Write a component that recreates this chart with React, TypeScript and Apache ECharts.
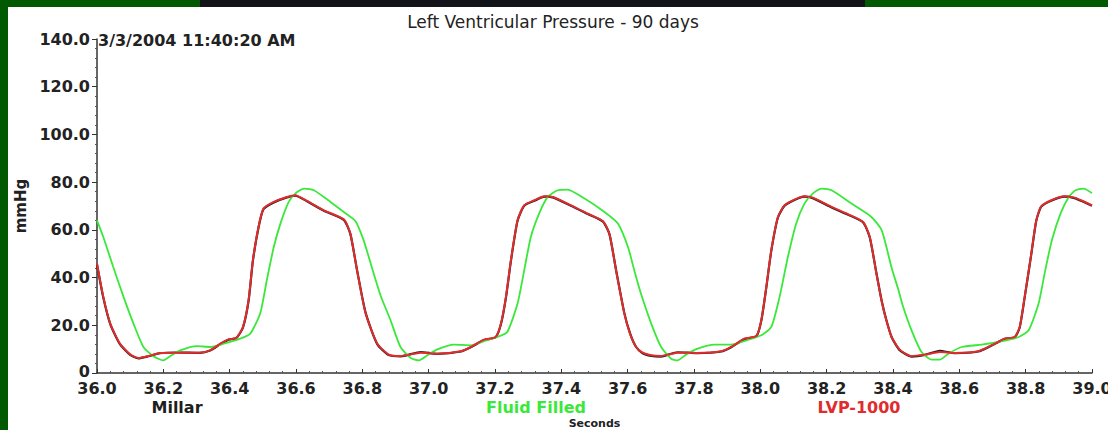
import React, { useEffect, useRef } from "react";
import * as echarts from "echarts";

const titleText = "Left Ventricular Pressure - 90 days";
const timestampText = "3/3/2004 11:40:20 AM";
const seriesNames = ["Millar", "Fluid Filled", "LVP-1000"];
const seriesColors = ["#1e1e1e", "#3ae83a", "#e02c2c"];
const xTickLabels = ["36.0","36.2","36.4","36.6","36.8","37.0","37.2","37.4","37.6","37.8","38.0","38.2","38.4","38.6","38.8","39.0"];

const millarPoints: [number, number][] = [
  [36.0,45.5],[36.019,31.6],[36.04,20.5],[36.069,12.1],[36.1,7.6],[36.125,6.1],[36.155,7.0],[36.19,8.3],[36.24,8.6],[36.31,8.4],[36.341,9.4],[36.372,12.1],[36.397,14.0],[36.42,14.6],[36.44,19.0],[36.457,30.2],[36.47,47.0],[36.487,61.0],[36.502,68.7],[36.533,71.5],[36.573,73.6],[36.598,74.3],[36.633,72.0],[36.684,68.0],[36.744,64.2],[36.764,58.2],[36.784,43.2],[36.81,25.2],[36.845,12.1],[36.88,7.5],[36.916,7.0],[36.976,8.8],[37.026,8.0],[37.097,9.0],[37.127,10.8],[37.167,13.8],[37.202,15.0],[37.218,20.5],[37.233,31.6],[37.248,47.0],[37.268,63.8],[37.288,70.1],[37.319,72.2],[37.349,73.9],[37.374,73.6],[37.429,70.1],[37.48,66.6],[37.525,63.5],[37.545,58.2],[37.565,43.2],[37.59,25.1],[37.607,16.7],[37.625,11.0],[37.645,8.3],[37.671,7.2],[37.7,6.9],[37.75,8.7],[37.81,8.3],[37.882,9.0],[37.912,10.8],[37.952,14.2],[37.988,15.4],[38.003,22.0],[38.018,35.8],[38.033,51.2],[38.053,65.2],[38.073,70.1],[38.103,72.5],[38.133,73.9],[38.158,73.3],[38.215,69.4],[38.265,66.3],[38.31,63.1],[38.33,56.8],[38.35,41.9],[38.366,30.2],[38.38,22.2],[38.396,15.0],[38.42,9.6],[38.456,6.9],[38.496,7.6],[38.541,9.3],[38.587,8.3],[38.657,9.0],[38.697,11.5],[38.737,14.3],[38.767,15.0],[38.782,19.1],[38.797,31.7],[38.817,49.8],[38.832,63.8],[38.847,69.7],[38.877,72.2],[38.917,73.9],[38.947,73.3],[38.972,71.9],[39.0,70.1]
];

const fluidPoints: [number, number][] = [
  [36.0,64.0],[36.019,57.0],[36.049,44.4],[36.08,31.9],[36.11,20.7],[36.14,10.9],[36.17,7.0],[36.2,5.3],[36.22,7.0],[36.251,9.5],[36.301,11.3],[36.341,10.9],[36.382,12.3],[36.432,14.4],[36.462,16.5],[36.492,24.9],[36.512,38.9],[36.533,52.8],[36.553,62.6],[36.578,71.7],[36.598,75.2],[36.624,77.3],[36.654,76.6],[36.704,71.7],[36.744,67.5],[36.779,63.7],[36.804,55.6],[36.825,46.0],[36.855,32.5],[36.885,22.1],[36.915,10.9],[36.946,6.3],[36.971,5.3],[36.996,7.4],[37.026,9.9],[37.076,11.9],[37.127,11.6],[37.167,13.4],[37.207,15.1],[37.237,17.2],[37.268,29.1],[37.288,43.0],[37.308,57.0],[37.333,66.8],[37.359,73.8],[37.389,76.6],[37.419,76.9],[37.47,73.1],[37.53,67.5],[37.571,62.6],[37.601,52.8],[37.62,43.0],[37.64,33.3],[37.671,20.7],[37.701,10.9],[37.731,6.0],[37.75,5.3],[37.776,7.7],[37.811,10.2],[37.861,11.9],[37.912,11.9],[37.952,13.4],[38.003,15.8],[38.033,19.3],[38.058,31.9],[38.083,48.6],[38.108,62.6],[38.133,71.0],[38.158,75.2],[38.184,77.3],[38.215,76.6],[38.275,71.0],[38.335,65.4],[38.366,59.8],[38.396,44.0],[38.416,35.0],[38.43,28.0],[38.456,17.9],[38.486,8.8],[38.517,5.6],[38.541,5.6],[38.567,8.1],[38.607,10.9],[38.668,11.9],[38.718,13.0],[38.779,15.1],[38.809,17.9],[38.839,29.1],[38.859,43.0],[38.879,55.6],[38.905,66.8],[38.93,73.8],[38.95,76.6],[38.975,77.3],[39.0,75.4]
];

const lvpPoints: [number, number][] = [
  [36.0,45.8],[36.019,31.9],[36.04,20.7],[36.069,12.3],[36.1,7.8],[36.125,6.3],[36.155,7.1],[36.19,8.4],[36.24,8.5],[36.31,8.5],[36.341,9.5],[36.372,12.3],[36.397,14.1],[36.42,14.7],[36.44,19.3],[36.457,30.5],[36.47,47.2],[36.487,61.2],[36.502,68.9],[36.533,71.7],[36.573,73.8],[36.598,74.5],[36.633,72.1],[36.684,68.2],[36.744,64.4],[36.764,58.4],[36.784,43.0],[36.81,25.0],[36.845,12.3],[36.88,7.7],[36.916,7.1],[36.976,8.5],[37.026,8.1],[37.097,9.1],[37.127,10.9],[37.167,14.0],[37.202,15.1],[37.218,20.7],[37.233,31.9],[37.248,47.2],[37.268,64.0],[37.288,70.3],[37.319,72.4],[37.349,74.1],[37.374,73.8],[37.429,70.3],[37.48,66.8],[37.525,63.7],[37.545,58.4],[37.565,43.0],[37.59,24.9],[37.607,16.5],[37.625,11.0],[37.645,8.5],[37.671,7.4],[37.7,7.1],[37.75,8.5],[37.81,8.4],[37.882,9.1],[37.912,10.9],[37.952,14.4],[37.988,15.5],[38.003,22.1],[38.018,36.0],[38.033,51.4],[38.053,65.4],[38.073,70.3],[38.103,72.7],[38.133,74.1],[38.158,73.5],[38.215,69.6],[38.265,66.5],[38.31,63.3],[38.33,57.0],[38.35,41.7],[38.366,30.0],[38.38,22.0],[38.396,15.1],[38.42,9.8],[38.456,7.1],[38.496,7.7],[38.541,8.8],[38.587,8.4],[38.657,9.1],[38.697,11.6],[38.737,14.4],[38.767,15.1],[38.782,19.3],[38.797,31.9],[38.817,50.0],[38.832,64.0],[38.847,69.9],[38.877,72.4],[38.917,74.1],[38.947,73.5],[38.972,72.1],[39.0,70.3]
];

const legendCenters = [177, 536, 859];

export default function App() {
  const ref = useRef<HTMLDivElement>(null);
  useEffect(() => {
    if (!ref.current) return;
    const chart = echarts.init(ref.current, null, { renderer: "svg" });
    const labelFont = "DejaVu Sans";
    const option: any = {
      animation: false,
      backgroundColor: "#ffffff",
      title: {
        text: titleText,
        left: 548,
        top: 8,
        textAlign: "center",
        textStyle: { fontFamily: labelFont, fontSize: 17, fontWeight: "normal", color: "#222" },
      },
      grid: { left: 97, right: 16, top: 39, bottom: 57, containLabel: false, outerBoundsMode: "none" },
      xAxis: {
        type: "value",
        min: 36,
        max: 39,
        interval: 0.2,
        name: "Seconds",
        nameLocation: "middle",
        nameGap: 45,
        nameTextStyle: { fontFamily: labelFont, fontSize: 11, fontWeight: "bold", color: "#222" },
        axisLine: { show: true, onZero: false, lineStyle: { color: "#333", width: 1.5 } },
        axisTick: { show: true, inside: true, length: 4, lineStyle: { color: "#333" } },
        minorTick: { show: true, splitNumber: 5, length: 2, lineStyle: { color: "#555" } },
        splitLine: { show: false },
        axisLabel: {
          margin: 8,
          fontFamily: labelFont,
          fontSize: 16,
          fontWeight: "bold",
          color: "#222",
          lineHeight: 14,
          formatter: (v: number) => xTickLabels[Math.round((v - 36) / 0.2)] ?? v.toFixed(1),
        },
      },
      yAxis: {
        type: "value",
        min: 0,
        max: 140,
        interval: 20,
        name: "mmHg",
        nameLocation: "middle",
        nameGap: 60,
        nameRotate: 90,
        nameTextStyle: { fontFamily: labelFont, fontSize: 15, fontWeight: "bold", color: "#222" },
        axisLine: { show: true, lineStyle: { color: "#333", width: 1.5 } },
        axisTick: { show: true, inside: false, length: 5, lineStyle: { color: "#333" } },
        minorTick: { show: true, splitNumber: 5, length: 2, lineStyle: { color: "#555" } },
        splitLine: { show: false },
        axisLabel: {
          margin: 7,
          fontFamily: labelFont,
          fontSize: 16,
          fontWeight: "bold",
          color: "#222",
          lineHeight: 13,
          formatter: (v: number) => (v === 0 ? "{zero|0}" : v.toFixed(1)),
          rich: {
            zero: {
              fontFamily: labelFont,
              fontSize: 16,
              fontWeight: "bold",
              color: "#222",
              lineHeight: 12,
              padding: [0, 0, 4, 0],
            },
          },
        },
      },
      series: [
        {
          name: seriesNames[0],
          type: "line",
          data: millarPoints,
          showSymbol: false,
          smooth: 0.2,
          lineStyle: { color: seriesColors[0], width: 2.2 },
          z: 2,
        },
        {
          name: seriesNames[1],
          type: "line",
          data: fluidPoints,
          showSymbol: false,
          smooth: 0.2,
          lineStyle: { color: seriesColors[1], width: 1.8 },
          z: 3,
        },
        {
          name: seriesNames[2],
          type: "line",
          data: lvpPoints,
          showSymbol: false,
          smooth: 0.2,
          lineStyle: { color: seriesColors[2], width: 2.0, opacity: 1 },
          z: 4,
        },
      ],
      graphic: [
        { type: "rect", shape: { x: 0, y: 0, width: 8, height: 430 }, style: { fill: "#015a01" }, z: 100 },
        { type: "rect", shape: { x: 0, y: 0, width: 200, height: 7 }, style: { fill: "#015a01" }, z: 100 },
        { type: "rect", shape: { x: 200, y: 0, width: 665, height: 7 }, style: { fill: "#13131a" }, z: 100 },
        { type: "rect", shape: { x: 865, y: 0, width: 243, height: 7 }, style: { fill: "#015a01" }, z: 100 },
        {
          type: "text",
          x: 98,
          y: 40,
          style: {
            text: timestampText,
            font: `bold 16px "${labelFont}"`,
            fill: "#222",
            textAlign: "left",
            textVerticalAlign: "middle",
          },
          z: 100,
        },
        ...seriesNames.map((n, i) => ({
          type: "text",
          x: legendCenters[i],
          y: 407,
          style: {
            text: n,
            font: `bold 16px "${labelFont}"`,
            fill: seriesColors[i],
            textAlign: "center",
            textVerticalAlign: "middle",
          },
          z: 100,
        })),
      ],
    };
    chart.setOption(option);
    return () => chart.dispose();
  }, []);
  return (
    <div
      ref={ref}
      style={{ position: "absolute", left: 0, top: 0, width: 1108, height: 430, background: "#fff" }}
    />
  );
}
